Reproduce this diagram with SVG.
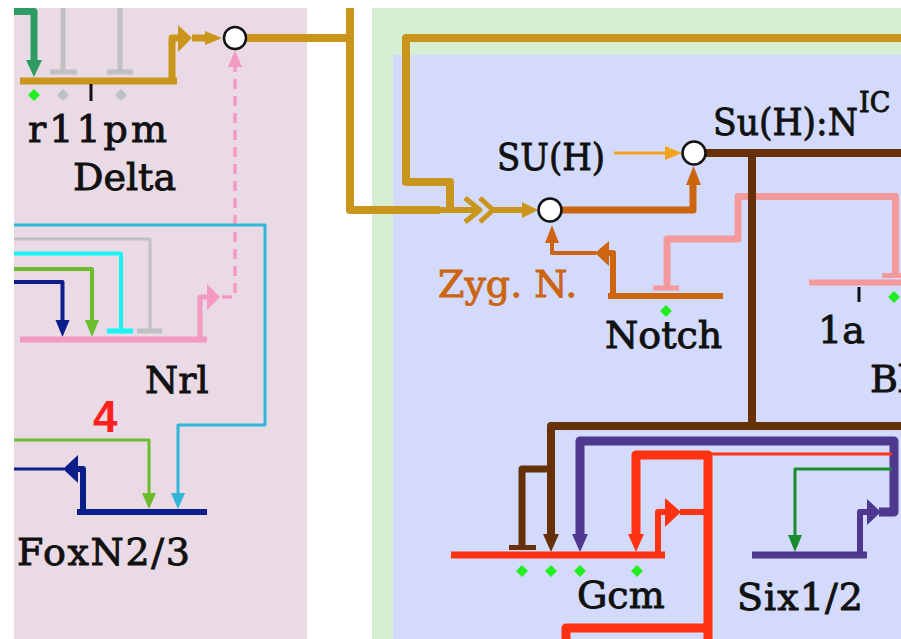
<svg xmlns="http://www.w3.org/2000/svg" width="901" height="639" viewBox="0 0 901 639">
<style>
.ln{fill:none;stroke-linejoin:round;stroke-linecap:butt}
.gold{stroke:#c9951a}.goldf{fill:#c9951a}
.sea{stroke:#2e9b62}.seaf{fill:#2e9b62}
.gray{stroke:#c0c0c0}.grayf{fill:#c0c0c0}
.pink{stroke:#f49ac2}.pinkf{fill:#f49ac2}
.lblue{stroke:#33b5d5}.lbluef{fill:#33b5d5}
.cyan{stroke:#16f4f4}
.ygreen{stroke:#6cbd2d}.ygreenf{fill:#6cbd2d}
.navy{stroke:#0b1e8a}.navyf{fill:#0b1e8a}
.orange{stroke:#cc6410}.orangef{fill:#cc6410}
.amber{stroke:#f5a31a}.amberf{fill:#f5a31a}
.brown{stroke:#663108}.brownf{fill:#663108}
.purple{stroke:#4f3990}.purplef{fill:#4f3990}
.red{stroke:#ff3311}.redf{fill:#ff3311}
.fgreen{stroke:#1a8c2e}.fgreenf{fill:#1a8c2e}
.salmon{stroke:#f59a9c}
.dia{fill:#22ee22}.diag{fill:#c0c0c0}
.tick{stroke:#111;stroke-width:3}
.lbl{font-family:"DejaVu Serif","Liberation Serif",serif;font-size:38px;fill:#111;stroke:#111;stroke-width:0.9px}
.zyg{fill:#cc6410;stroke:#cc6410}
.node{fill:#fff;stroke:#111;stroke-width:2.5}
</style>
<g id="background">
<rect x="14" y="8" width="293" height="631" fill="#e9dae6"/>
<rect x="372" y="8" width="529" height="631" fill="#d6efd4"/>
<rect x="393" y="55" width="508" height="584" fill="#d3dafb"/>
</g>
<g id="connectors">
<path class="ln gold" stroke-width="7" d="M172,81 V38 H178"/>
<polygon class="goldf" points="178,25 178,52 192,38"/>
<path class="ln gold" stroke-width="7" d="M192,38 H206"/>
<polygon class="goldf" points="205,31 205,45 222,38"/>
<path class="ln gold" stroke-width="8" d="M246,38 H350 M350,8 V210 H440"/>
<path class="ln gold" stroke-width="8" d="M901,38 H406 V182 H450 V210"/>
<path class="ln gold" stroke-width="6" d="M440,210 H478 M493,210 H526"/>
<path class="ln gold" stroke-width="5" d="M465,198 L480,210 L465,222 M480,198 L493,210 L480,222"/>
<polygon class="goldf" points="522,202 522,218 538,210"/>
<path class="ln sea" stroke-width="7" d="M14,11.5 H34 V62"/>
<polygon class="seaf" points="26,60 42,60 34,77"/>
<path class="ln gray" stroke-width="5" d="M63,8 V72 M50,72 H77 M120,8 V72 M107,72 H133"/>
<path class="ln pink" stroke-width="5" d="M200,339 V297 H208"/>
<polygon class="pinkf" points="207,284 207,310 220,297"/>
<path class="ln pink" stroke-width="3.5" stroke-dasharray="10 7" d="M222,297 H235 V66"/>
<polygon class="pinkf" points="228,67 242,67 235,50"/>
<path class="ln lblue" stroke-width="3" d="M14,225 H265 V425 H178 V495"/>
<polygon class="lbluef" points="171,493 185,493 178,509"/>
<path class="ln gray" stroke-width="3" d="M14,239 H150 V331"/>
<path class="ln gray" stroke-width="5" d="M137,331 H162"/>
<path class="ln cyan" stroke-width="4" d="M14,253.5 H121 V331"/>
<path class="ln cyan" stroke-width="5" d="M107,331 H133"/>
<path class="ln ygreen" stroke-width="4" d="M14,269 H92 V322"/>
<polygon class="ygreenf" points="85,320 99,320 92,337"/>
<path class="ln navy" stroke-width="4" d="M14,282 H62.5 V322"/>
<polygon class="navyf" points="55.5,320 69.5,320 62.5,337"/>
<path class="ln ygreen" stroke-width="3" d="M14,440 H149 V495"/>
<polygon class="ygreenf" points="142,493 156,493 149,509"/>
<path class="ln navy" stroke-width="3" d="M14,469 H64"/>
<path class="ln navy" stroke-width="6" d="M83,512 V469 H77"/>
<polygon class="navyf" points="78,455 78,483 63,469"/>
<path class="ln orange" stroke-width="7" d="M562,210 H693 V184"/>
<polygon class="orangef" points="686,185 701,185 693.5,166"/>
<path class="ln orange" stroke-width="6" d="M613,296 V253 H608"/>
<polygon class="orangef" points="609,241 609,266 595,253"/>
<path class="ln orange" stroke-width="4" d="M596,253 H552 V242"/>
<polygon class="orangef" points="545,243 559,243 552,225"/>
<path class="ln amber" stroke-width="3" d="M614,153 H667"/>
<polygon class="amberf" points="665,146 665,160 682,153"/>
<path class="ln salmon" stroke-width="7" d="M667,288 V239 H738 V196.5 H895.5 V275"/>
<path class="ln salmon" stroke-width="5" d="M653,288 H679 M882,275.5 H901"/>
<path class="ln brown" stroke-width="8" d="M706,153 H901 M752,153 V426"/>
<path class="ln brown" stroke-width="8" d="M901,426 H551 V536"/>
<polygon class="brownf" points="543,534 559,534 551,552"/>
<path class="ln brown" stroke-width="7" d="M551,469 H522 V547"/>
<path class="ln brown" stroke-width="5" d="M509,547.5 H536"/>
<path class="ln purple" stroke-width="9" d="M879,512 H894 V441 H580 V536"/>
<polygon class="purplef" points="572,534 588,534 580,552"/>
<path class="ln purple" stroke-width="6" d="M860,555 V512 H868"/>
<polygon class="purplef" points="867,499 867,525 881,512"/>
<path class="ln red" stroke-width="6" d="M658,555 V512 H666"/>
<polygon class="redf" points="665,498 665,527 681,512"/>
<path class="ln red" stroke-width="6" d="M680,512 H708"/>
<path class="ln red" stroke-width="9" d="M708,639 V455 H636 V536"/>
<polygon class="redf" points="628,534 644,534 636,552"/>
<path class="ln red" stroke-width="3" d="M708,454 H892"/>
<path class="ln red" stroke-width="9" d="M566,639 V628 H708"/>
<path class="ln fgreen" stroke-width="3" d="M892,469 H795 V537"/>
<polygon class="fgreenf" points="788,535 802,535 795,552"/>
</g>
<g id="delta">
<path class="ln gold" stroke-width="7" d="M20,81 H177"/>
<polygon class="dia" points="34,89 40,95 34,101 28,95"/>
<polygon class="diag" points="63,89 69,95 63,101 57,95"/>
<line class="tick" x1="91" y1="84" x2="91" y2="101"/>
<polygon class="diag" points="121,89 127,95 121,101 115,95"/>
<text class="lbl" x="28" y="142" textLength="139" lengthAdjust="spacing">r11pm</text>
<text class="lbl" x="73" y="190">Delta</text>
</g>
<g id="delta-node"><circle class="node" cx="235" cy="38" r="11"/></g>
<g id="nrl">
<path class="ln pink" stroke-width="6" d="M20,339.5 H207"/>
<text class="lbl" x="145" y="393">Nrl</text>
</g>
<g id="label-4">
<text x="93" y="432" font-family="'Liberation Sans',Arial,sans-serif" font-weight="bold" font-size="44" fill="#ff2020">4</text>
</g>
<g id="foxn23">
<path class="ln navy" stroke-width="6" d="M77,512 H207"/>
<text class="lbl" x="17" y="565" textLength="173" lengthAdjust="spacing">FoxN2/3</text>
</g>
<g id="suh">
<text class="lbl" x="497" y="170" textLength="108" lengthAdjust="spacingAndGlyphs">SU(H)</text>
<circle class="node" cx="550" cy="210" r="11.5"/>
</g>
<g id="suh-nic">
<circle class="node" cx="694" cy="153" r="11.5"/>
<text class="lbl" x="713" y="135"><tspan textLength="145" lengthAdjust="spacingAndGlyphs">Su(H):N</tspan><tspan dx="1" dy="-23" style="font-size:27px">IC</tspan></text>
</g>
<g id="zyg-n">
<text class="lbl zyg" x="438" y="297">Zyg. N.</text>
</g>
<g id="notch">
<path class="ln orange" stroke-width="6" d="M608,296 H723"/>
<polygon class="dia" points="666,305 672,311 666,317 660,311"/>
<text class="lbl" x="605" y="348">Notch</text>
</g>
<g id="gene-1a">
<path class="ln salmon" stroke-width="6" d="M809,282.5 H901"/>
<line class="tick" x1="859" y1="287" x2="859" y2="302"/>
<polygon class="dia" points="894,291 900,297 894,303 888,297"/>
<text class="lbl" x="818" y="343">1a</text>
<text class="lbl" x="870" y="392">Bl</text>
</g>
<g id="gcm">
<path class="ln red" stroke-width="7" d="M451,555 H665"/>
<polygon class="dia" points="522,565 528,571 522,577 516,571"/>
<polygon class="dia" points="551,565 557,571 551,577 545,571"/>
<polygon class="dia" points="580,565 586,571 580,577 574,571"/>
<polygon class="dia" points="637,565 643,571 637,577 631,571"/>
<text class="lbl" x="577" y="608">Gcm</text>
</g>
<g id="six12">
<path class="ln purple" stroke-width="7" d="M752,555 H867"/>
<text class="lbl" x="737" y="610" textLength="126" lengthAdjust="spacing">Six1/2</text>
</g>
</svg>
